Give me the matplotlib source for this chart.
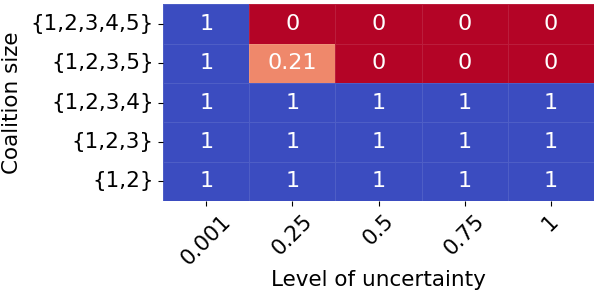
import numpy as np
import matplotlib
matplotlib.use("Agg")
import matplotlib.pyplot as plt
import seaborn as sns

# Data
coalitions = ["{1,2,3,4,5}", "{1,2,3,5}", "{1,2,3,4}", "{1,2,3}", "{1,2}"]
uncertainty = ["0.001", "0.25", "0.5", "0.75", "1"]
values = np.array([
    [1, 0, 0, 0, 0],
    [1, 0.21, 0, 0, 0],
    [1, 1, 1, 1, 1],
    [1, 1, 1, 1, 1],
    [1, 1, 1, 1, 1],
])

fig = plt.figure(figsize=(5.98, 2.97), dpi=100)
ax = fig.add_axes([0.273, 0.323, 0.72, 0.663])
sns.heatmap(values, ax=ax, cmap="coolwarm_r", vmin=0, vmax=1, cbar=False,
            annot=True, fmt="g", annot_kws={"fontsize": 16, "color": "white"},
            linewidths=0.4, linecolor=(1, 1, 1, 0.1),
            xticklabels=uncertainty, yticklabels=coalitions)

ax.set_xticklabels(uncertainty, rotation=45, fontsize=15.5)
ax.set_yticklabels(coalitions, rotation=0, fontsize=15.5)
ax.set_xlabel("Level of uncertainty", fontsize=15.5, labelpad=1)
ax.set_ylabel("Coalition size", fontsize=15.5, labelpad=6)

plt.savefig("out.png", dpi=100)
plt.close()
